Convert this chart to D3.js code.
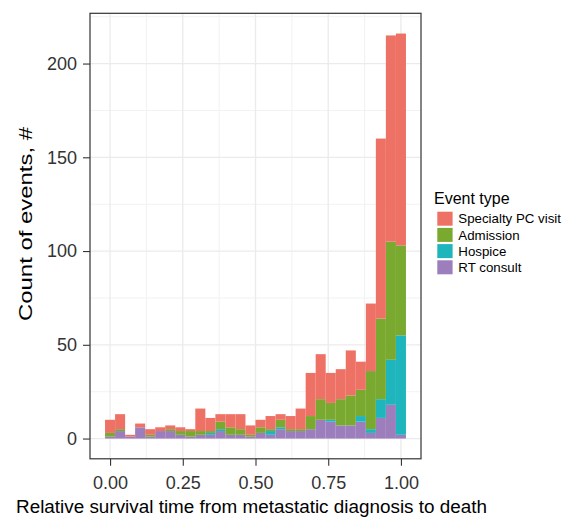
<!DOCTYPE html>
<html>
<head>
<meta charset="utf-8">
<script src="https://cdn.jsdelivr.net/npm/d3@7"></script>
<style>
  body { margin: 0; background: #fff; }
  text { font-family: "Liberation Sans", Arial, Helvetica, sans-serif; }
</style>
</head>
<body>
<svg id="chart" width="570" height="519"></svg>
<script>
// bin centres (30 bins over 0..1)
var binMids = [0, 0.0345, 0.069, 0.1034, 0.1379, 0.1724, 0.2069, 0.2414, 0.2759, 0.3103,
  0.3448, 0.3793, 0.4138, 0.4483, 0.4828, 0.5172, 0.5517, 0.5862, 0.6207, 0.6552,
  0.6897, 0.7241, 0.7586, 0.7931, 0.8276, 0.8621, 0.8966, 0.931, 0.9655, 1];
var binWidth = 0.0345;

var rtConsult = [1, 4, 1, 6, 1, 4, 4, 2, 1, 2, 2, 4, 2, 2, 1, 3, 2, 5, 4, 4, 5, 10, 9, 7, 7, 9, 3, 11, 18, 2];
var hospice   = [0, 0, 0, 0, 0, 0, 0, 0, 0, 0, 1, 1, 0, 0, 0, 0, 2, 1, 0, 0, 0, 0, 1, 0, 0, 3, 2, 10, 24, 53];
var admission = [2, 1, 0, 0, 1, 0, 1, 2, 3, 2, 1, 4, 4, 3, 1, 3, 1, 4, 1, 1, 7, 11, 9, 14, 16, 14, 31, 43, 63, 48];
var specialty = [7, 8, 1, 2, 3, 2, 2, 2, 1, 12, 7, 4, 7, 8, 5, 4, 7, 3, 7, 11, 23, 24, 16, 16, 24, 15, 36, 96, 110, 113];

var legendLabels = ["Specialty PC visit", "Admission", "Hospice", "RT consult"];
var colors = ["#EE7166", "#79A92F", "#1FB5BD", "#9D7EBC"];
var xTicks = [0, 0.25, 0.5, 0.75, 1];
var xMinor = [0.125, 0.375, 0.625, 0.875];
var yTicks = [0, 50, 100, 150, 200];
var yMinor = [25, 75, 125, 175, 225];

var svg = d3.select("#chart");
var panel = { left: 90, right: 421, top: 13.3, bottom: 458.8 };

// table for stacking
var table = binMids.map(function(m, i) {
  return {
    mid: m,
    "RT consult": rtConsult[i],
    "Hospice": hospice[i],
    "Admission": admission[i],
    "Specialty PC visit": specialty[i]
  };
});

var keys = ["RT consult", "Hospice", "Admission", "Specialty PC visit"];
var series = d3.stack().keys(keys)(table);

var colorScale = d3.scaleOrdinal().domain(legendLabels).range(colors);

// ggplot style 5% expansion
var xLo = binMids[0] - binWidth / 2, xHi = binMids[binMids.length - 1] + binWidth / 2;
var xPad = (xHi - xLo) * 0.05;
var x = d3.scaleLinear()
  .domain([xLo - xPad, xHi + xPad])
  .range([panel.left, panel.right]);

var yMax = d3.max(series[series.length - 1], function(d) { return d[1]; });
var yPad = yMax * 0.05;
var y = d3.scaleLinear()
  .domain([-yPad, yMax + yPad])
  .range([panel.bottom, panel.top]);

// grid
var grid = svg.append("g");
grid.selectAll(".xmin").data(xMinor).enter().append("line")
  .attr("x1", d => x(d)).attr("x2", d => x(d))
  .attr("y1", panel.top).attr("y2", panel.bottom)
  .attr("stroke", "#F2F2F2").attr("stroke-width", 1.1);
grid.selectAll(".ymin").data(yMinor).enter().append("line")
  .attr("y1", d => y(d)).attr("y2", d => y(d))
  .attr("x1", panel.left).attr("x2", panel.right)
  .attr("stroke", "#F2F2F2").attr("stroke-width", 1.1);
grid.selectAll(".xmaj").data(xTicks).enter().append("line")
  .attr("x1", d => x(d)).attr("x2", d => x(d))
  .attr("y1", panel.top).attr("y2", panel.bottom)
  .attr("stroke", "#EBEBEB").attr("stroke-width", 1.3);
grid.selectAll(".ymaj").data(yTicks).enter().append("line")
  .attr("y1", d => y(d)).attr("y2", d => y(d))
  .attr("x1", panel.left).attr("x2", panel.right)
  .attr("stroke", "#EBEBEB").attr("stroke-width", 1.3);

// bars
svg.append("g").selectAll("g")
  .data(series)
  .enter().append("g")
  .attr("fill", function(d) { return colorScale(d.key); })
  .selectAll("rect")
  .data(function(d) { return d; })
  .enter().append("rect")
  .attr("x", function(d) { return x(d.data.mid - binWidth / 2); })
  .attr("width", function(d) { return x(d.data.mid + binWidth / 2) - x(d.data.mid - binWidth / 2); })
  .attr("y", function(d) { return y(d[1]); })
  .attr("height", function(d) { return y(d[0]) - y(d[1]); });

// panel border
svg.append("rect")
  .attr("x", panel.left).attr("y", panel.top)
  .attr("width", panel.right - panel.left).attr("height", panel.bottom - panel.top)
  .attr("fill", "none").attr("stroke", "#333333").attr("stroke-width", 1.2);

// axes
var xAxis = d3.axisBottom(x).tickValues(xTicks).tickFormat(d3.format(".2f")).tickSize(7).tickPadding(10);
var gx = svg.append("g").attr("transform", "translate(0," + panel.bottom + ")").call(xAxis);
var yAxis = d3.axisLeft(y).tickValues(yTicks).tickSize(7).tickPadding(6);
var gy = svg.append("g").attr("transform", "translate(" + panel.left + ",0)").call(yAxis);

[gx, gy].forEach(function(g) {
  g.select(".domain").remove();
  g.selectAll(".tick line").attr("stroke", "#333333").attr("stroke-width", 1.1);
  g.selectAll(".tick text")
    .attr("fill", "#333333")
    .style("font-size", "18px")
    .style("font-family", "'Liberation Sans', Arial, Helvetica, sans-serif");
});

// axis titles (reference font is a bit wider than Liberation Sans)
svg.append("text")
  .attr("x", 251.5).attr("y", 513)
  .attr("text-anchor", "middle")
  .attr("textLength", 471)
  .attr("lengthAdjust", "spacingAndGlyphs")
  .style("font-size", "17.5px")
  .attr("fill", "#000")
  .text("Relative survival time from metastatic diagnosis to death");

svg.append("text")
  .attr("transform", "translate(32,224) rotate(-90)")
  .attr("text-anchor", "middle")
  .attr("textLength", 194)
  .attr("lengthAdjust", "spacingAndGlyphs")
  .style("font-size", "19px")
  .attr("fill", "#000")
  .text("Count of events, #");

// legend
var legend = svg.append("g").attr("transform", "translate(434,0)");
legend.append("text")
  .attr("x", 0).attr("y", 204)
  .style("font-size", "16px")
  .attr("fill", "#000")
  .text("Event type");

var items = legend.selectAll(".item").data(legendLabels).enter().append("g")
  .attr("transform", function(d, i) { return "translate(0," + (211.7 + i * 16.2) + ")"; });
items.append("rect")
  .attr("x", 3.3).attr("y", 0)
  .attr("width", 15.3).attr("height", 14)
  .attr("fill", function(d) { return colorScale(d); });
items.append("text")
  .attr("x", 24.3).attr("y", 11.6)
  .style("font-size", "13.3px")
  .attr("fill", "#000")
  .text(function(d) { return d; });
</script>
</body>
</html>
